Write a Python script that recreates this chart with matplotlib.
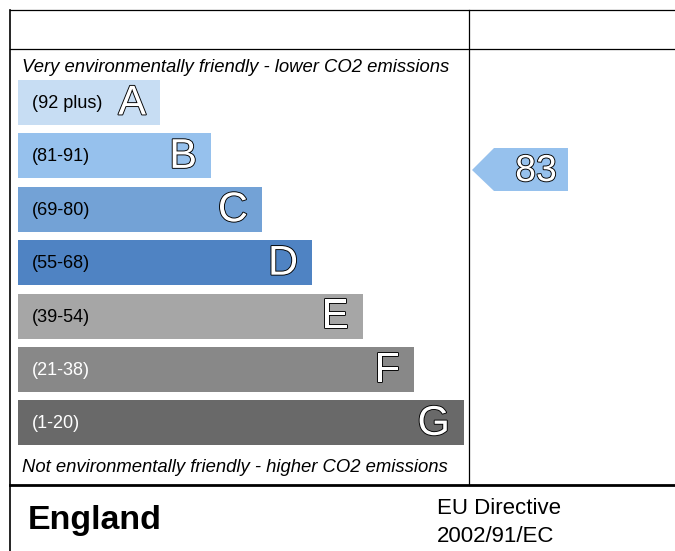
import matplotlib.pyplot as plt
import matplotlib.patheffects as pe
from matplotlib.patches import Rectangle, Polygon

plt.rcParams['font.family'] = ['Liberation Sans', 'DejaVu Sans']

# bands of the rating scale
letters = ['A', 'B', 'C', 'D', 'E', 'F', 'G']
ranges = ['(92 plus)', '(81-91)', '(69-80)', '(55-68)', '(39-54)', '(21-38)', '(1-20)']
colors = ['#c7ddf3', '#96c1ed', '#73a2d6', '#4f83c3', '#a6a6a6', '#888888', '#696969']
range_text_color = ['black', 'black', 'black', 'black', 'black', 'white', 'white']
bar_right = [160, 211, 262, 312, 363, 414, 464]   # px, bar lengths

current = 83
current_color = '#96c1ed'

W, H = 675, 551
fig = plt.figure(figsize=(W / 100, H / 100), dpi=100)
ax = fig.add_axes([0, 0, 1, 1])
ax.set_xlim(0, W)
ax.set_ylim(H, 0)
ax.axis('off')

# frame
lc = 'black'
ax.plot([10, W], [10, 10], color=lc, lw=0.9)
ax.plot([10, W], [49, 49], color=lc, lw=0.9)
ax.plot([10, 10], [10, H], color=lc, lw=1.2)
ax.plot([469, 469], [10, 485], color=lc, lw=0.9)
ax.plot([10, W], [485, 485], color=lc, lw=2)

ax.text(22, 67, 'Very environmentally friendly - lower CO2 emissions',
        fontsize=13.3, style='italic', va='center', ha='left')
ax.text(22, 467, 'Not environmentally friendly - higher CO2 emissions',
        fontsize=13.3, style='italic', va='center', ha='left')

outline = [pe.withStroke(linewidth=1.3, foreground='black')]

top0, step, h = 80, 53.4, 45
for i, L in enumerate(letters):
    y0 = top0 + i * step
    ax.add_patch(Rectangle((18, y0), bar_right[i] - 18, h, facecolor=colors[i], edgecolor='none'))
    yc = y0 + h / 2
    ax.text(32, yc + 1, ranges[i], fontsize=13, color=range_text_color[i],
            va='center', ha='left')
    ax.text(bar_right[i] - 14, yc + 1, L, fontsize=30, color='white',
            va='center', ha='right', path_effects=outline)

# current rating arrow
ax.add_patch(Polygon([(472, 170), (494, 148), (568, 148), (568, 191), (494, 191)],
                     closed=True, facecolor=current_color, edgecolor='none'))
ax.text(536, 171, str(current), fontsize=27, color='white', va='center', ha='center',
        path_effects=outline)

ax.text(28, 520, 'England', fontsize=24.5, fontweight='bold', va='center', ha='left')
ax.text(437, 509, 'EU Directive', fontsize=16, va='center', ha='left')
ax.text(437, 537, '2002/91/EC', fontsize=16, va='center', ha='left')

fig.savefig('out.png', dpi=100)
